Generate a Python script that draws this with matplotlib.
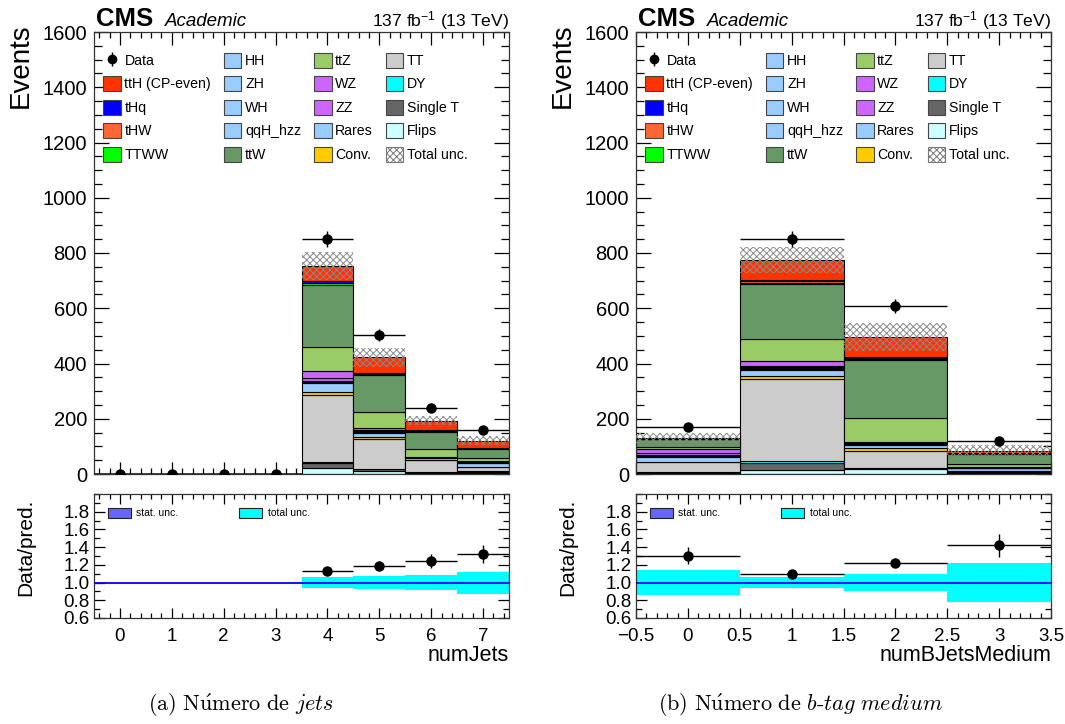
import numpy as np
import matplotlib
matplotlib.use("Agg")
import matplotlib.pyplot as plt
from matplotlib.patches import Patch
from matplotlib.ticker import MultipleLocator, FixedLocator, FuncFormatter

plt.rcParams["font.family"] = ["Liberation Sans", "DejaVu Sans"]
plt.rcParams["mathtext.fontset"] = "custom"
plt.rcParams["mathtext.rm"] = "Liberation Sans"
plt.rcParams["mathtext.it"] = "Liberation Sans:italic"
plt.rcParams["mathtext.bf"] = "Liberation Sans:bold"
plt.rcParams["hatch.linewidth"] = 0.7

# ---- dados ----
jet_bins = [0, 1, 2, 3, 4, 5, 6, 7]
btag_bins = [0, 1, 2, 3]

# numJets (bins 0..7)
flips_j = [0, 0, 0, 0, 20, 10, 3, 4]
singlet_j = [0, 0, 0, 0, 20, 7, 4, 3]
dy_j = [0, 0, 0, 0, 2, 1, 1, 5]
tt_j = [0, 0, 0, 0, 245, 108, 42, 14]
conv_j = [0, 0, 0, 0, 11, 7, 1, 1]
rares_j = [0, 0, 0, 0, 30, 17, 7, 13]
qqh_j = [0, 0, 0, 0, 4, 2, 1, 1]
wh_j = [0, 0, 0, 0, 3, 2, 1, 1]
zh_j = [0, 0, 0, 0, 2, 1, 0.5, 1]
hh_j = [0, 0, 0, 0, 1, 1, 0.5, 1]
zz_j = [0, 0, 0, 0, 8, 2, 0.5, 0.5]
wz_j = [0, 0, 0, 0, 28, 7, 1.5, 1.5]
ttz_j = [0, 0, 0, 0, 87, 58, 26, 11]
ttw_j = [0, 0, 0, 0, 222, 135, 63, 34]
ttww_j = [0, 0, 0, 0, 7, 4, 4, 2]
thw_j = [0, 0, 0, 0, 3, 1, 1, 1]
thq_j = [0, 0, 0, 0, 5, 1, 1, 1]
tth_j = [0, 0, 0, 0, 55, 58, 35, 26]
data_j = [0, 0, 0, 0, 850, 502, 240, 160]
data_err_j = [0, 0, 0, 0, 29, 22, 15.5, 12.6]
unc_j = [0, 0, 0, 0, 50, 33, 17, 15]

# numBJetsMedium (bins 0..3)
flips_b = [3, 14, 17, 3]
singlet_b = [2, 25, 3, 2]
dy_b = [0.5, 8, 0, 1]
tt_b = [37.5, 297, 64, 5]
conv_b = [2, 12, 9, 1]
rares_b = [18, 22, 13, 9]
qqh_b = [2, 3, 2, 0.5]
wh_b = [1, 2, 1, 0.5]
zh_b = [2, 2, 1, 1]
hh_b = [1, 1, 1, 1]
zz_b = [6, 4, 1, 1]
wz_b = [15, 20, 3, 2]
ttz_b = [9, 79, 87, 9]
ttw_b = [27, 198, 211, 35]
ttww_b = [1, 6, 5, 2]
thw_b = [0.5, 4, 3, 1]
thq_b = [0.5, 5, 4, 1]
tth_b = [3, 73, 72, 10]
data_b = [171, 851, 608, 121]
data_err_b = [13, 29, 24.7, 11]
unc_b = [19, 48, 50, 19]

# processos empilhados de baixo para cima: (nome, cor, jets, btags)
stack = [
    ("Flips", "#ccffff", flips_j, flips_b),
    ("Single T", "#666666", singlet_j, singlet_b),
    ("DY", "#00ffff", dy_j, dy_b),
    ("TT", "#cccccc", tt_j, tt_b),
    ("Conv.", "#ffcc00", conv_j, conv_b),
    ("Rares", "#99ccff", rares_j, rares_b),
    ("qqH_hzz", "#99ccff", qqh_j, qqh_b),
    ("WH", "#99ccff", wh_j, wh_b),
    ("ZH", "#99ccff", zh_j, zh_b),
    ("HH", "#99ccff", hh_j, hh_b),
    ("ZZ", "#cc66ff", zz_j, zz_b),
    ("WZ", "#cc66ff", wz_j, wz_b),
    ("ttZ", "#99cc66", ttz_j, ttz_b),
    ("ttW", "#669966", ttw_j, ttw_b),
    ("TTWW", "#00ff00", ttww_j, ttww_b),
    ("tHW", "#ff6633", thw_j, thw_b),
    ("tHq", "#0000ff", thq_j, thq_b),
    ("ttH (CP-even)", "#ff3300", tth_j, tth_b),
]
legend_order = ["Data", "ttH (CP-even)", "tHq", "tHW", "TTWW",
                "HH", "ZH", "WH", "qqH_hzz", "ttW",
                "ttZ", "WZ", "ZZ", "Rares", "Conv.",
                "TT", "DY", "Single T", "Flips", "Total unc."]

W, H = 1065, 724
fig = plt.figure(figsize=(W / 100, H / 100), dpi=100)


def px_axes(x0, y0, x1, y1):
    return fig.add_axes([x0 / W, 1 - y1 / H, (x1 - x0) / W, (y1 - y0) / H])


def fmt_num(v, pos=None):
    s = f"{v:g}"
    return s.replace("-", "\u2212")


def style_ticks(ax, xl, yl):
    ax.tick_params(which="both", direction="in", top=True, right=True,
                   colors="black", width=0.9)
    ax.tick_params(axis="x", which="major", length=xl[0])
    ax.tick_params(axis="x", which="minor", length=xl[1])
    ax.tick_params(axis="y", which="major", length=yl[0])
    ax.tick_params(axis="y", which="minor", length=yl[1])
    for s in ax.spines.values():
        s.set_linewidth(0.9)
        s.set_color("#333333")


def draw_panel(x0, x1, bins, idx, data, derr, unc, xlim, xmaj, xmin, xlabel, caption):
    top = px_axes(x0, 32, x1, 474)
    bot = px_axes(x0, 494, x1, 618)
    bins = np.array(bins, dtype=float)

    bottom = np.zeros(len(bins))
    handles = {}
    for name, color, vj, vb in stack:
        vals = np.array([vj, vb][idx], dtype=float)
        top.bar(bins, vals, width=1.0, bottom=bottom, color=color,
                edgecolor="black", linewidth=0.8, zorder=2)
        bottom = bottom + vals
        handles[name] = Patch(facecolor=color, edgecolor="#444444", linewidth=0.8)
    total = bottom
    unc = np.array(unc, dtype=float)
    top.bar(bins, 2 * unc, width=1.0, bottom=total - unc, fill=False,
            hatch="xxxxx", edgecolor="#8a8a8a", linewidth=0, zorder=3)
    handles["Total unc."] = Patch(facecolor="white", edgecolor="#777777",
                                  hatch="xxxxx", linewidth=0.8)

    top.errorbar(bins, data, xerr=0.5, yerr=derr, fmt="o", color="black",
                 ms=6.5, elinewidth=1.0, capsize=0, zorder=5)
    dummy = top.errorbar([np.nan], [np.nan], yerr=[1], fmt="o", color="black",
                         ms=6, elinewidth=1.0, capsize=0)
    handles["Data"] = dummy

    top.set_xlim(*xlim)
    top.set_ylim(0, 1600)
    top.xaxis.set_major_locator(MultipleLocator(xmaj))
    top.xaxis.set_minor_locator(MultipleLocator(xmin))
    top.yaxis.set_major_locator(MultipleLocator(200))
    top.yaxis.set_minor_locator(MultipleLocator(50))
    top.tick_params(labelbottom=False, labelsize=14.5)
    top.tick_params(axis="y", pad=5)
    style_ticks(top, (9, 4.5), (11, 5.5))
    top.set_ylabel("Events", fontsize=20, loc="top")
    top.yaxis.set_label_coords(-0.145, 1.02)

    top.legend([handles[n] for n in legend_order], legend_order, ncol=4,
               loc="upper left", bbox_to_anchor=(0.022, 0.953),
               frameon=False, fontsize=10.2, borderpad=0, borderaxespad=0,
               handlelength=1.25, handleheight=1.25, handletextpad=0.25,
               labelspacing=0.58, columnspacing=0.9)

    # razao
    mask = total > 0
    rel = np.zeros(len(bins))
    rel[mask] = unc[mask] / total[mask]
    bot.bar(bins[mask], 2 * rel[mask], width=1.0, bottom=1 - rel[mask],
            color="#00ffff", linewidth=0, zorder=2)
    bot.axhline(1.0, color="#0000ff", lw=1.3, zorder=3)
    ratio = np.array(data, dtype=float)[mask] / total[mask]
    rerr = np.array(derr, dtype=float)[mask] / total[mask]
    bot.errorbar(bins[mask], ratio, xerr=0.5, yerr=rerr, fmt="o", color="black",
                 ms=6.5, elinewidth=1.0, capsize=0, zorder=5)
    bot.set_xlim(*xlim)
    bot.set_ylim(0.6, 2.0)
    bot.yaxis.set_major_locator(FixedLocator([0.6, 0.8, 1.0, 1.2, 1.4, 1.6, 1.8]))
    bot.yaxis.set_minor_locator(MultipleLocator(0.1))
    bot.yaxis.set_major_formatter(FuncFormatter(lambda v, p: f"{v:.1f}"))
    bot.xaxis.set_major_locator(MultipleLocator(xmaj))
    bot.xaxis.set_minor_locator(MultipleLocator(xmin))
    bot.xaxis.set_major_formatter(FuncFormatter(fmt_num))
    bot.tick_params(labelsize=13.5)
    bot.tick_params(axis="x", pad=7)
    bot.tick_params(axis="y", pad=3)
    style_ticks(bot, (7, 3.5), (8, 4))
    bot.set_ylabel("Data/pred.", fontsize=15)
    bot.yaxis.set_label_coords(-0.142, 0.57)
    bot.set_xlabel(xlabel, fontsize=15.5, loc="right")
    bot.xaxis.set_label_coords(1.0, -0.22)

    bot.legend([Patch(facecolor="#6666ff", edgecolor="#222222", linewidth=0.8),
                Patch(facecolor="#00ffff", edgecolor="#222222", linewidth=0.8)],
               ["stat. unc.", "total unc."], ncol=2, loc="upper left",
               bbox_to_anchor=(0.033, 0.89), frameon=False, fontsize=7.5,
               borderpad=0, borderaxespad=0, handlelength=2.2, handleheight=1.1,
               handletextpad=0.5, columnspacing=5.9)

    # cabecalho CMS
    fig.text((x0 + 2) / W, 1 - 26 / H, "CMS", fontsize=18.5, fontweight="bold",
             ha="left", va="baseline")
    fig.text((x0 + 71) / W, 1 - 26 / H, "Academic", fontsize=13.5,
             style="italic", ha="left", va="baseline")
    fig.text(x1 / W, 1 - 26 / H, r"137 fb$^{-1}$ (13 TeV)", fontsize=12.6,
             ha="right", va="baseline")

    fig.text(caption[0] / W, 1 - 705 / H, caption[1], fontsize=16,
             ha="center", va="center", math_fontfamily="cm")


draw_panel(94, 509, jet_bins, 0, data_j, data_err_j, unc_j, (-0.5, 7.5), 1, 0.2,
           "numJets",
           (241, r"$\mathrm{(a)\ N\acute{u}mero\ de\ }\mathit{jets}$"))
draw_panel(636, 1051, btag_bins, 1, data_b, data_err_b, unc_b, (-0.5, 3.5), 0.5, 0.1,
           "numBJetsMedium",
           (800, r"$\mathrm{(b)\ N\acute{u}mero\ de\ }\mathit{b}\text{-}\mathit{tag\ medium}$"))

fig.savefig("out.png", dpi=100)
